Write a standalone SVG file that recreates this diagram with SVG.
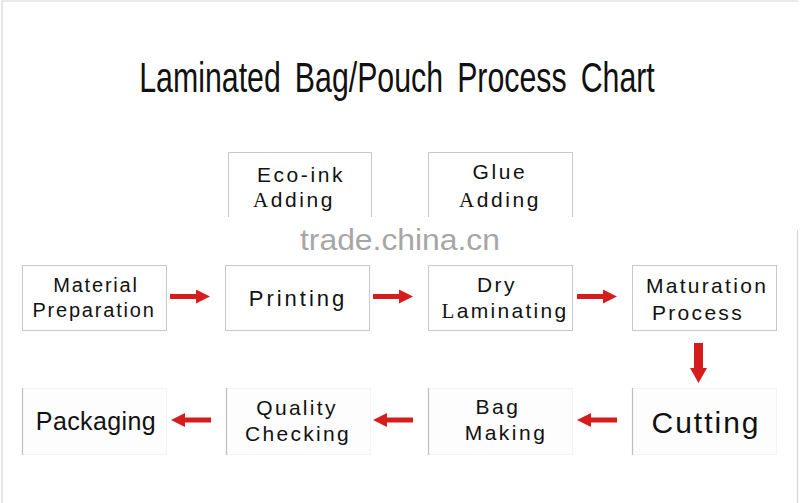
<svg xmlns="http://www.w3.org/2000/svg" width="800" height="503" viewBox="0 0 800 503">
<style>
.t{font-family:"Liberation Sans",Arial,sans-serif;fill:#111;text-anchor:middle}
.s{font-family:"Liberation Serif","Times New Roman",serif}
.box{fill:#fff;stroke:#c8c8c8;stroke-width:1}
.lbox{fill:#fdfdfd;stroke:#f4f4f4;stroke-width:1}
.edge{stroke:#bdbdbd;stroke-width:1.2}
.arr{fill:#d61d1d}
</style>
<defs>
<path id="ar" d="M0,-2.5 L26,-2.5 L26,-7 L40,0 L26,7 L26,2.5 L0,2.5 Z"/>
</defs>
<rect width="800" height="503" fill="#fff"/>
<path d="M2,503 V1 H798 M797.5,230 V503" fill="none" stroke="#d6d6d6" stroke-width="1.2"/>

<text class="t" font-size="43" word-spacing="8" transform="translate(397,92) scale(0.705,1)">Laminated Bag/Pouch Process Chart</text>

<g id="eco-ink">
<path d="M228.5,217 V152.5 H371.5 V217" fill="#fff" stroke="#c8c8c8"/>
<text x="301" y="182" class="t" font-size="21" letter-spacing="2.6">Eco-ink</text>
<text x="294" y="207" class="t" font-size="21" letter-spacing="2.6"><tspan class="s">A</tspan>dding</text>
</g>
<g id="glue">
<path d="M428.5,217 V152.5 H572.5 V217" fill="#fff" stroke="#c8c8c8"/>
<text x="500" y="179" class="t" font-size="21" letter-spacing="2.6">Glue</text>
<text x="500" y="207" class="t" font-size="21" letter-spacing="2.6"><tspan class="s">A</tspan>dding</text>
</g>

<text x="400" y="250" class="t" font-size="29" style="fill:#a6a6a6" textLength="200" lengthAdjust="spacingAndGlyphs">trade.china.cn</text>

<g id="material">
<rect class="box" x="22.5" y="265.5" width="144" height="65"/>
<text x="96" y="292" class="t" font-size="20" letter-spacing="1.8">Material</text>
<text x="94" y="317" class="t" font-size="20" letter-spacing="1.8">Preparation</text>
</g>
<g id="printing">
<rect class="box" x="225.5" y="265.5" width="144" height="65"/>
<text x="298" y="306" class="t" font-size="22" letter-spacing="3">Printing</text>
</g>
<g id="dry">
<rect class="box" x="428.5" y="265.5" width="144" height="65"/>
<text x="497" y="292" class="t" font-size="21" letter-spacing="2.5">Dry</text>
<text x="505" y="318" class="t" font-size="21" letter-spacing="2.3"><tspan class="s">L</tspan>aminating</text>
</g>
<g id="maturation">
<rect class="box" x="632.5" y="265.5" width="144" height="65"/>
<text x="707" y="293" class="t" font-size="21" letter-spacing="2.3">Maturation</text>
<text x="698" y="320" class="t" font-size="21" letter-spacing="2.3">Process</text>
</g>

<g id="packaging">
<rect class="lbox" x="22.5" y="388.5" width="144" height="66"/>
<line class="edge" x1="22.5" y1="388" x2="22.5" y2="455"/>
<text x="96" y="430" class="t" font-size="25" letter-spacing="0.4">Packaging</text>
</g>
<g id="quality">
<rect class="lbox" x="226.5" y="388.5" width="144" height="66"/>
<line class="edge" x1="226.5" y1="388" x2="226.5" y2="455"/>
<text x="297" y="415" class="t" font-size="21" letter-spacing="2.3">Quality</text>
<text x="298" y="441" class="t" font-size="21" letter-spacing="2.3">Checking</text>
</g>
<g id="bag">
<rect class="lbox" x="428.5" y="388.5" width="144" height="66"/>
<line class="edge" x1="428.5" y1="388" x2="428.5" y2="455"/>
<text x="498" y="414" class="t" font-size="21" letter-spacing="2.5">Bag</text>
<text x="506" y="440" class="t" font-size="21" letter-spacing="2.5">Making</text>
</g>
<g id="cutting">
<rect class="lbox" x="632.5" y="388.5" width="144" height="66"/>
<line class="edge" x1="632.5" y1="388" x2="632.5" y2="455"/>
<text x="706" y="433" class="t" font-size="30" letter-spacing="2">Cutting</text>
</g>

<g id="connectors" class="arr">
<use href="#ar" transform="translate(170,296.5)"/>
<use href="#ar" transform="translate(373,296.5)"/>
<use href="#ar" transform="translate(577,296.5)"/>
<path d="M694,343 H703 V368 H707 L698.5,383 L690,368 H694 Z"/>
<use href="#ar" transform="translate(211,420) scale(-1,1)"/>
<use href="#ar" transform="translate(413,420) scale(-1,1)"/>
<use href="#ar" transform="translate(617,420) scale(-1,1)"/>
</g>
</svg>
